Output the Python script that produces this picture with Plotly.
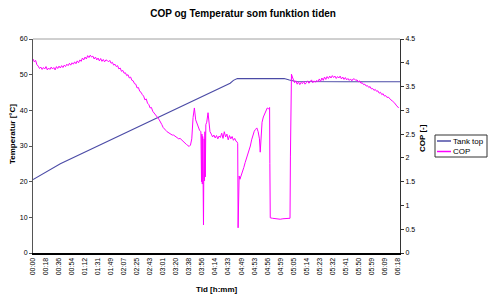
import plotly.graph_objects as go

# ---------------- data ----------------
time_labels = ["00:00", "00:18", "00:36", "00:54", "01:12", "01:31", "01:49", "02:07",
               "02:25", "02:43", "03:01", "03:20", "03:38", "03:56", "04:14", "04:33",
               "04:49", "04:53", "04:56", "04:59", "05:05", "05:14", "05:23", "05:32",
               "05:41", "05:50", "05:59", "06:09", "06:18"]
label_pos = [i * 10 for i in range(len(time_labels))]  # sample index of each label

tank_x = [0, 8, 21, 151.5, 154, 157, 193, 197, 202, 240, 282]
tank_y = [20.6, 22.3, 25.0, 47.6, 48.4, 48.9, 48.9, 48.5, 48.1, 48.0, 48.0]

cop_x = [
    0, 1, 2, 3, 4, 5, 6, 7, 8, 9, 10, 11, 12, 13, 14, 15, 16, 17, 18, 19, 20, 21, 22, 23,
    24, 25, 26, 27, 28, 29, 30, 31, 32, 33, 34, 35, 36, 37, 38, 39, 40, 41, 42, 43, 44, 45, 46,
    47, 48, 49, 50, 51, 52, 53, 54, 55, 56, 57,
    58, 59, 60, 61, 62, 63, 64, 65, 66, 67, 68, 69, 70, 71, 72, 73, 74, 75, 76, 77, 78, 79,
    80, 81, 82, 83, 84, 85, 86, 87, 88, 89, 90, 91, 92, 93, 94, 95, 96, 97, 98, 99,
    100, 101, 102, 103, 104, 105, 106, 107, 108, 109, 110, 111, 112, 113, 114, 115, 116, 117,
    118, 119, 120, 121,
    122, 123, 124, 125, 126, 127, 128, 129,
    129.5, 129.8, 130.1, 130.4, 130.7, 131.0, 131.2, 131.5, 131.8, 132.1, 132.4, 132.8,
    133.5, 134.5, 135.5, 136,
    137, 138, 139, 140, 141, 142, 143, 144, 145, 146, 147, 148, 149, 150, 151, 152, 153,
    154, 155, 156, 157,
    157.3, 157.6, 158.0, 158.4, 159, 160, 161, 162, 163, 164, 165, 166, 167, 168, 169, 170,
    171, 172, 173, 174, 174.6, 175.2, 176, 177, 178, 179, 180, 181, 181.8, 182.0, 182.3,
    184, 186, 188, 190, 192, 194, 196, 197.5, 197.8, 198.2, 198.6, 199.3,
    200, 201, 202, 203, 204, 205, 206, 207, 208, 209, 210, 211, 212, 213, 214, 215, 216,
    217, 218, 219, 220, 221, 222, 223, 224, 225, 226,
    227, 228, 229, 230, 231, 232, 233, 234, 235, 236, 237, 238, 239, 240, 241, 242, 243,
    244, 245, 246,
    247, 248, 249, 250, 251, 252, 253, 254, 255, 256, 257, 258, 259, 260, 261, 262, 263,
    264, 265, 266, 267, 268, 269, 270, 271, 272, 273, 274, 275, 276, 277, 278, 279, 280, 281,
]
cop_y = [
    4.08, 4.02, 4.05, 3.96, 3.93, 3.88, 3.91, 3.86, 3.90, 3.87, 3.92, 3.85, 3.89, 3.86, 3.91,
    3.87, 3.90, 3.85, 3.92, 3.88, 3.93, 3.89, 3.94, 3.90,
    3.95, 3.92, 3.97, 3.94, 3.99, 3.95, 4.00, 3.97, 4.02, 3.98, 4.04, 4.00, 4.06, 4.03, 4.10,
    4.06, 4.12, 4.08, 4.15, 4.11, 4.16, 4.12, 4.14,
    4.08, 4.12, 4.06, 4.10, 4.04, 4.09, 4.03, 4.07, 4.02, 4.06, 4.05,
    4.02, 4.05, 3.99, 4.01, 3.95, 3.97, 3.92, 3.94, 3.87, 3.89, 3.82, 3.84, 3.78, 3.79, 3.73,
    3.75, 3.68, 3.70, 3.63, 3.62, 3.56, 3.55,
    3.47, 3.48, 3.40, 3.38, 3.33, 3.30, 3.22, 3.24, 3.15, 3.12, 3.05, 3.06, 2.98, 2.95, 2.90,
    2.88, 2.84, 2.80, 2.76, 2.70,
    2.64, 2.60, 2.58, 2.55, 2.53, 2.52, 2.50, 2.48, 2.48, 2.46, 2.44, 2.42, 2.40, 2.41, 2.38,
    2.36, 2.33, 2.30, 2.28, 2.26, 2.24, 2.27,
    2.40, 2.85, 3.05, 2.80, 2.72, 2.65, 2.58, 2.55,
    1.50, 2.50, 1.45, 2.45, 1.60, 0.59, 1.55, 2.40, 1.52, 2.55, 1.60, 2.70,
    2.75, 2.95, 2.70, 2.55,
    2.50, 2.44, 2.48, 2.42, 2.47, 2.40, 2.46, 2.43, 2.52, 2.41, 2.55, 2.44, 2.50, 2.38, 2.47,
    2.40, 2.45, 2.37, 2.41, 2.35, 2.33,
    2.30, 0.53, 1.45, 1.62, 1.55, 1.62, 1.72, 1.80, 1.90, 1.98, 2.05, 2.15, 2.25, 2.38, 2.50,
    2.56, 2.60, 2.63, 2.55, 2.40, 2.12, 2.50, 2.75, 2.86, 2.92, 3.00, 3.05, 3.03, 3.06, 1.88,
    0.74,
    0.73, 0.72, 0.72, 0.71, 0.72, 0.72, 0.72, 0.73, 2.02, 3.70, 3.76, 3.70,
    3.66, 3.58, 3.62, 3.55, 3.60, 3.54, 3.59, 3.56, 3.61, 3.55, 3.58, 3.62, 3.57, 3.60, 3.64,
    3.58, 3.62, 3.59, 3.63, 3.60, 3.66, 3.61, 3.68, 3.63, 3.70, 3.65, 3.71,
    3.67, 3.72, 3.68, 3.73, 3.69, 3.72, 3.67, 3.71, 3.68, 3.72, 3.66, 3.70, 3.65, 3.69, 3.64,
    3.67, 3.63, 3.66, 3.62, 3.66,
    3.66, 3.63, 3.64, 3.60, 3.62, 3.57, 3.58, 3.54, 3.55, 3.51, 3.52, 3.48, 3.50, 3.45, 3.46,
    3.42, 3.44, 3.40, 3.41, 3.36, 3.38, 3.33, 3.35, 3.30, 3.31, 3.27, 3.28, 3.24, 3.22, 3.20,
    3.18, 3.15, 3.11, 3.08, 3.05,
]

series_names = ["Tank top", "COP"]
series_colors = ["#4B4BA6", "#FF00FF"]

# ---------------- figure ----------------
FONT = "Liberation Sans, Arial, sans-serif"
fig = go.Figure()
fig.add_trace(go.Scatter(x=tank_x, y=tank_y, mode="lines", name=series_names[0],
                         line=dict(color=series_colors[0], width=1.1), showlegend=False))
fig.add_trace(go.Scatter(x=cop_x, y=cop_y, mode="lines", name=series_names[1], yaxis="y2",
                         line=dict(color=series_colors[1], width=1), showlegend=False))

L, R, T, B = 33, 90, 39, 43
W, H = 490, 296
pw, ph = W - L - R, H - T - B


def px(x):
    return (x - L) / pw


def py(y):
    return (H - B - y) / ph


fig.update_layout(
    width=W, height=H,
    margin=dict(l=L, r=R, t=T, b=B),
    paper_bgcolor="white", plot_bgcolor="white",
    font=dict(family=FONT, size=8, color="black"),
    title=dict(text="<b>COP og Temperatur som funktion tiden</b>", x=0.496, xanchor="center",
               y=1 - 13 / H, yanchor="middle", font=dict(size=10, family=FONT)),
    xaxis=dict(range=[0, 282], tickmode="array", tickvals=label_pos, ticktext=time_labels,
               tickangle=-90, tickfont=dict(size=7), showgrid=False, zeroline=False,
               showline=True, linecolor="black", linewidth=2, ticks="", ticklen=2),
    yaxis=dict(range=[0, 60], dtick=10, showgrid=False, zeroline=False, showline=True,
               linecolor="#555555", linewidth=1, ticks="outside", ticklen=3,
               tickcolor="#555555", tickfont=dict(size=7)),
    yaxis2=dict(range=[0, 4.5], dtick=0.5, overlaying="y", side="right", showgrid=False,
                zeroline=False, showline=True, linecolor="#333333", linewidth=1,
                ticks="outside", ticklen=3, tickcolor="#333333", tickfont=dict(size=7)),
    shapes=[
        dict(type="line", xref="paper", yref="paper", x0=0, x1=1, y0=1, y1=1,
             line=dict(color="#A0A0A0", width=1)),
        dict(type="rect", xref="paper", yref="paper", x0=px(435), x1=px(487),
             y0=py(157), y1=py(135), line=dict(color="#333333", width=1),
             fillcolor="white"),
        dict(type="line", xref="paper", yref="paper", x0=px(437), x1=px(451),
             y0=py(141), y1=py(141), line=dict(color=series_colors[0], width=1.5)),
        dict(type="line", xref="paper", yref="paper", x0=px(437), x1=px(451),
             y0=py(151.5), y1=py(151.5), line=dict(color=series_colors[1], width=1.5)),
    ],
    annotations=[
        dict(text="<b>Tid [h:mm]</b>", xref="paper", yref="paper", x=px(217),
             y=py(289), showarrow=False, font=dict(size=8),
             xanchor="center", yanchor="middle"),
        dict(text="<b>Temperatur [°C]</b>", xref="paper", yref="paper", x=px(12),
             y=py(134), textangle=-90, showarrow=False, font=dict(size=8),
             xanchor="center", yanchor="middle"),
        dict(text="<b>COP [-]</b>", xref="paper", yref="paper", x=px(422), y=py(138),
             textangle=-90, showarrow=False, font=dict(size=8),
             xanchor="center", yanchor="middle"),
        dict(text=series_names[0], xref="paper", yref="paper", x=px(451), y=py(141),
             showarrow=False, font=dict(size=8), xanchor="left", yanchor="middle"),
        dict(text=series_names[1], xref="paper", yref="paper", x=px(451), y=py(151.5),
             showarrow=False, font=dict(size=8), xanchor="left", yanchor="middle"),
    ],
)

fig.write_html("out.html")
